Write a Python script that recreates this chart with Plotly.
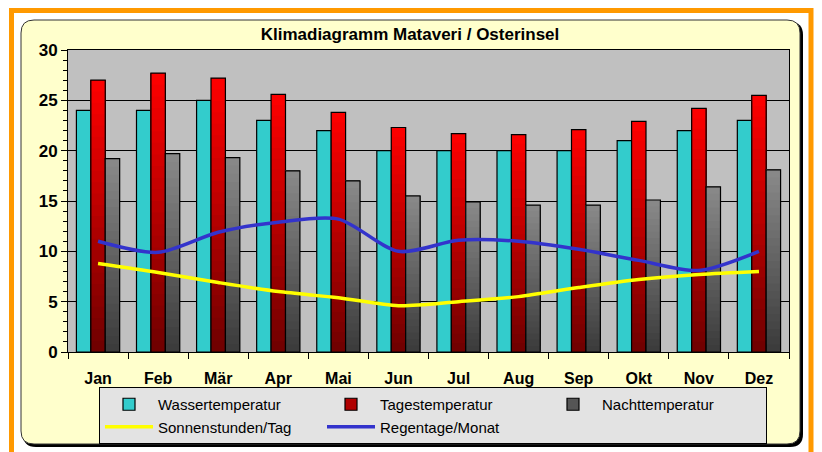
import plotly.graph_objects as go

months = ["Jan", "Feb", "Mär", "Apr", "Mai", "Jun", "Jul", "Aug", "Sep", "Okt", "Nov", "Dez"]
wasser = [24, 24, 25, 23, 22, 20, 20, 20, 20, 21, 22, 23]
tages = [27.0, 27.7, 27.2, 25.6, 23.8, 22.3, 21.7, 21.6, 22.1, 22.9, 24.2, 25.5]
nacht = [19.2, 19.7, 19.3, 18.0, 17.0, 15.5, 14.9, 14.6, 14.6, 15.1, 16.4, 18.1]
sonne = [8.8, 7.9, 6.9, 6.0, 5.4, 4.6, 5.0, 5.5, 6.4, 7.2, 7.7, 8.0]
regen = [11.0, 9.9, 11.9, 12.9, 13.2, 10.0, 11.1, 11.0, 10.2, 9.1, 8.1, 10.0]
y_ticks = [0, 5, 10, 15, 20, 25, 30]

# plot area in pixels
W, H = 822, 452
L, R, T, B = 68, 789, 50, 352
PW, PH = R - L, B - T


def px(x):
    return (x - L) / PW


def py(y):
    return (B - y) / PH


def rounded(x0, y0, x1, y1, r):
    return (
        f"M{px(x0 + r)},{py(y0)} L{px(x1 - r)},{py(y0)} Q{px(x1)},{py(y0)} {px(x1)},{py(y0 + r)} "
        f"L{px(x1)},{py(y1 - r)} Q{px(x1)},{py(y1)} {px(x1 - r)},{py(y1)} "
        f"L{px(x0 + r)},{py(y1)} Q{px(x0)},{py(y1)} {px(x0)},{py(y1 - r)} "
        f"L{px(x0)},{py(y0 + r)} Q{px(x0)},{py(y0)} {px(x0 + r)},{py(y0)} Z"
    )


def lerp(c1, c2, t):
    return "rgb(%d,%d,%d)" % tuple(round(a + (b - a) * t) for a, b in zip(c1, c2))


fig = go.Figure()
N = 24


def gradient_bars(name, vals, group, top, bottom, legend_color, rank):
    # each slice runs from its base up to the bar top, later slices cover earlier ones
    for k in range(N):
        fig.add_trace(go.Bar(
            x=months, y=[v * (N - k) / N for v in vals], base=[v * k / N for v in vals],
            offsetgroup=group, marker=dict(color=lerp(bottom, top, (k + 0.5) / N), line=dict(width=0)),
            showlegend=False, hoverinfo="skip"))
    fig.add_trace(go.Bar(
        x=months, y=vals, offsetgroup=group, name=name,
        marker=dict(color="rgba(0,0,0,0)", line=dict(color="black", width=1.2)),
        showlegend=False))
    fig.add_trace(go.Bar(
        x=[months[0]], y=[None], offsetgroup=group, name=name, legendrank=rank,
        marker=dict(color=legend_color, line=dict(color="black", width=1.2))))


fig.add_trace(go.Bar(x=months, y=wasser, name="Wassertemperatur", offsetgroup="a", legendrank=1,
                     marker=dict(color="#33CCCC", line=dict(color="black", width=1.2))))
gradient_bars("Tagestemperatur", tages, "b", (255, 0, 0), (110, 0, 0), "#B00000", 2)
gradient_bars("Nachttemperatur", nacht, "c", (138, 138, 138), (58, 58, 58), "#555555", 3)

fig.add_trace(go.Scatter(x=months, y=sonne, mode="lines", name="Sonnenstunden/Tag", legendrank=4,
                         line=dict(color="#FFFF00", width=3.5, shape="spline", smoothing=0.8)))
fig.add_trace(go.Scatter(x=months, y=regen, mode="lines", name="Regentage/Monat", legendrank=5,
                         line=dict(color="#3333CC", width=3.5, shape="spline", smoothing=0.8)))

shapes = [
    # orange frame
    dict(type="rect", xref="paper", yref="paper", x0=px(11.5), x1=px(811), y0=py(10.5), y1=py(470),
         line=dict(color="#FF9900", width=5), fillcolor="rgba(0,0,0,0)", layer="below"),
    # shadow
    dict(type="path", xref="paper", yref="paper", path=rounded(23, 22, 803, 447, 13),
         fillcolor="black", line=dict(width=0), layer="below"),
    # yellow panel
    dict(type="path", xref="paper", yref="paper", path=rounded(21, 20, 800, 444, 13),
         fillcolor="#FFFFCC", line=dict(color="#333333", width=1), layer="below"),
    # plot area background
    dict(type="rect", xref="paper", yref="paper", x0=0, x1=1, y0=0, y1=1,
         fillcolor="#C0C0C0", line=dict(width=0), layer="below"),
]

narrow = "Liberation Sans Narrow, Arial Narrow, Liberation Sans, Arial"

fig.update_layout(
    width=W, height=H,
    margin=dict(l=L, r=W - R, t=T, b=H - B, autoexpand=False),
    paper_bgcolor="white", plot_bgcolor="#C0C0C0",
    barmode="group", bargap=0.28, bargroupgap=0,
    shapes=shapes,
    title=dict(text="<b>Klimadiagramm Mataveri / Osterinsel</b>", x=px(410), xref="paper",
               xanchor="center", y=1 - 34 / H, yanchor="middle",
               font=dict(family=narrow, size=17, color="black")),
    xaxis=dict(showgrid=False, ticks="outside", tickson="boundaries", ticklen=6, tickcolor="black",
               showline=True, linecolor="black", linewidth=1, mirror=True, ticklabelstandoff=12,
               tickfont=dict(family=narrow, size=16, color="black"),
               tickvals=months, ticktext=[f"<b>{m}</b>" for m in months]),
    yaxis=dict(range=[0, 30], tickvals=y_ticks, ticktext=[f"<b>{v}</b>" for v in y_ticks],
               showgrid=True, gridcolor="black", gridwidth=1, zeroline=False,
               ticks="outside", ticklen=6, tickcolor="black",
               minor=dict(dtick=1, ticks="outside", ticklen=4, tickcolor="black", showgrid=False),
               showline=True, linecolor="black", linewidth=1, mirror=True,
               tickfont=dict(family=narrow, size=17, color="black")),
    legend=dict(orientation="h", x=px(99), y=py(387), xanchor="left", yanchor="top",
                bgcolor="#E3E3E3", bordercolor="black", borderwidth=1,
                entrywidth=159, entrywidthmode="pixels", traceorder="normal",
                font=dict(family="Liberation Sans, Arial", size=15, color="black"),
                tracegroupgap=0, itemwidth=48),
    showlegend=True,
)

fig.write_html("out.html", config={"displayModeBar": False},
               post_script="document.body.style.margin='0';")
